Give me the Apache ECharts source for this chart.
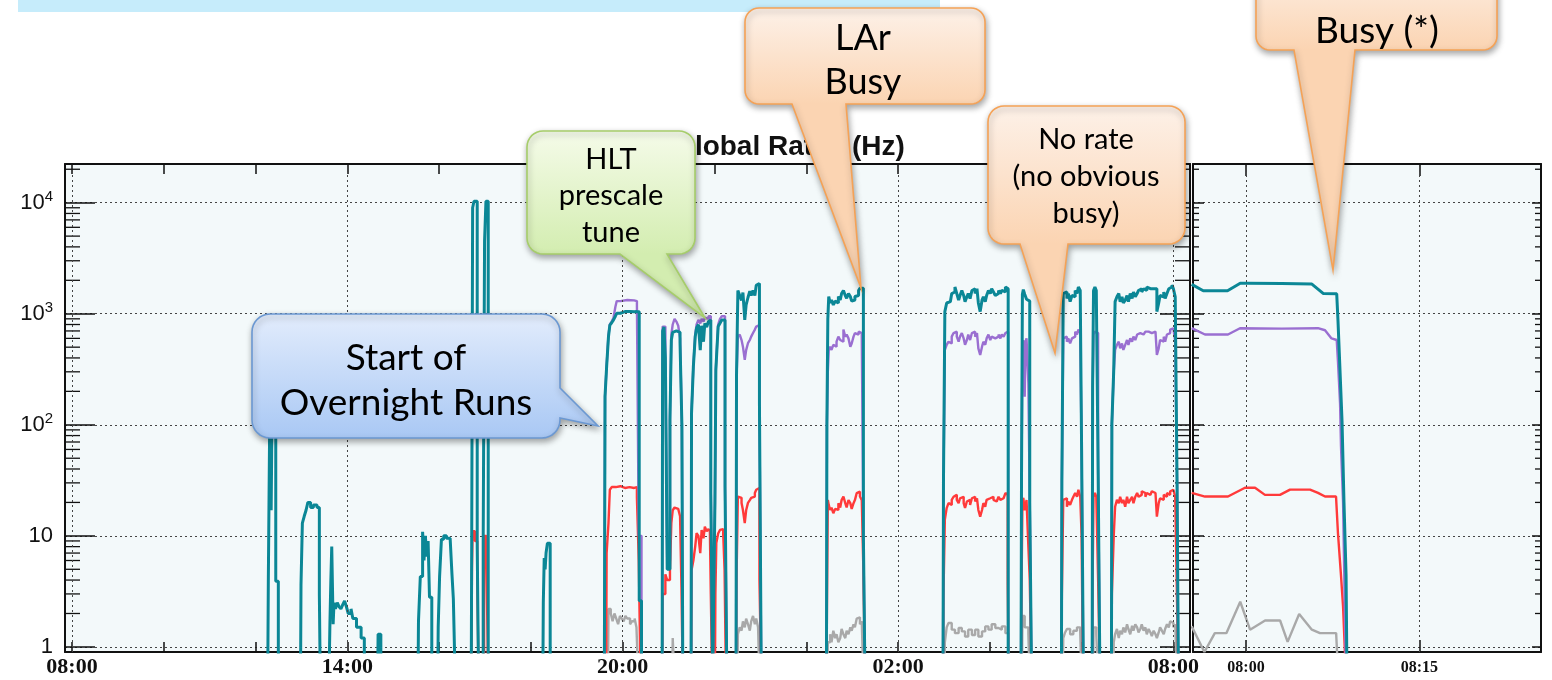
<!DOCTYPE html>
<html>
<head>
<meta charset="utf-8">
<script src="https://cdn.jsdelivr.net/npm/echarts@6/dist/echarts.min.js"></script>
<style>
  html, body { margin: 0; padding: 0; background: #ffffff; }
  #chart { width: 1552px; height: 680px; }
</style>
</head>
<body>
<div id="chart"></div>
<script>
// ---------------------------------------------------------------
// Global trigger rates (Hz), overnight running.
// Left panel: hours after 08:00; right panel: minutes after 08:00.
// Each pair is [time, rate]; 0.5 marks "no rate" (below the axis).
// ---------------------------------------------------------------

// Left panel tick positions (hours after 08:00) and labels
const leftTickHours = [0, 2, 4, 6, 8, 10, 12, 14, 16, 18, 20, 22, 24];
const leftLabelHours = [0, 6, 12, 18, 24];
const leftLabelText = ['08:00', '14:00', '20:00', '02:00', '08:00'];

// Right panel tick positions (minutes after 08:00) and labels
const rightTickMinutes = [0, 15];
const rightLabelText = ['08:00', '08:15'];

// Log axis decade labels: base and exponent text
const yLabelBase = ['1', '10', '10', '10', '10'];
const yLabelExp = ['', '', '2', '3', '4'];
const minorTickValues = [2, 3, 4, 5, 6, 7, 8, 9, 20, 30, 40, 50, 60, 70, 80, 90,
  200, 300, 400, 500, 600, 700, 800, 900, 2000, 3000, 4000, 5000, 6000, 7000, 8000, 9000, 20000];

// ---- Left panel series ----
const tealLeft = [
  [4.265,0.5],[4.278,3.9],[4.311,150],[4.34,17],[4.36,150],[4.44,3.9],[4.496,0.5],
  [4.98,0.5],[4.99,3.6],[5.02,13],[5.06,15],[5.10,17],[5.14,20],[5.20,18],[5.26,19],[5.34,18],[5.39,3],[5.41,0.5],
  [5.60,0.5],[5.62,1.6],[5.64,3.9],[5.66,8],[5.69,1.6],[5.71,2.5],[5.74,2.2],[5.78,2.5],[5.82,2.3],[5.86,2.2],[5.90,2.4],[5.94,2.6],[5.98,2.3],[6.02,2.0],[6.08,2.2],[6.12,1.8],[6.20,1.5],[6.30,1.2],[6.37,0.5],
  [6.66,0.5],[6.67,1.3],[6.73,0.5],
  [7.54,0.5],[7.55,1.7],[7.59,4.3],[7.64,10.9],[7.67,6],[7.70,10],[7.73,6.5],[7.76,9],[7.79,2.8],[7.84,0.5],
  [7.97,0.5],[7.98,1.5],[8.01,4.3],[8.05,9.3],[8.10,10],[8.16,9.5],[8.24,9.7],[8.28,4.5],[8.31,2.7],[8.35,0.5],
  [8.70,0.5],[8.71,8.6],[8.73,9000],[8.76,10300],[8.83,8],[8.86,0.5],[8.96,9],[8.99,4500],[9.02,10300],[9.07,0.5],
  [10.26,0.5],[10.27,2.5],[10.29,6.3],[10.31,5],[10.33,7],[10.36,8.6],[10.42,0.5],
  [11.60,0.5],[11.615,180],[11.65,334],[11.69,620],[11.72,790],[11.76,830],[11.80,880],[11.84,950],[11.87,1010],[11.95,1045],[12.05,1050],[12.15,1040],[12.25,1045],[12.31,1040],[12.36,2.6],[12.41,0.5],
  [12.86,0.5],[12.87,700],[12.90,760],[12.93,400],[12.97,5],[13.03,110],[13.06,580],[13.09,680],[13.13,700],[13.17,720],[13.21,680],[13.25,540],[13.29,100],[13.31,0.5],
  [13.49,0.5],[13.50,127],[13.54,334],[13.58,620],[13.61,745],[13.65,800],[13.69,470],[13.72,780],[13.76,560],[13.79,820],[13.83,760],[13.87,850],[13.90,880],[13.92,25],[13.96,0.5],
  [14.00,0.5],[14.01,20],[14.03,311],[14.06,540],[14.08,766],[14.12,820],[14.16,880],[14.19,880],[14.23,28],[14.27,0.5],
  [14.47,0.5],[14.48,272],[14.51,1620],[14.55,1460],[14.59,1320],[14.62,1550],[14.66,880],[14.69,1200],[14.73,1400],[14.77,1600],[14.80,1460],[14.84,1620],[14.88,1460],[14.91,1800],[14.95,1875],[14.98,157],[15.02,0.5],
  [16.44,0.5],[16.45,104],[16.47,900],[16.49,1430],[16.52,1250],[16.55,1330],[16.59,1200],[16.63,1300],[16.66,1250],[16.70,1430],[16.74,1330],[16.77,1520],[16.81,1620],[16.85,1460],[16.88,1380],[16.92,1520],[16.96,1430],[16.99,1300],[17.03,1330],[17.06,1430],[17.10,1460],[17.14,1620],[17.17,1700],[17.21,1700],[17.245,10],[17.28,0.5],
  [18.98,0.5],[18.99,30],[19.02,1045],[19.06,1250],[19.10,1285],[19.14,1325],[19.17,1520],[19.21,1570],[19.24,1740],[19.28,1520],[19.32,1325],[19.35,1460],[19.39,1620],[19.43,1460],[19.46,1285],[19.50,1420],[19.53,1520],[19.57,1370],[19.61,1620],[19.64,1680],[19.68,1520],[19.72,1680],[19.75,1250],[19.79,1045],[19.83,1325],[19.86,1420],[19.90,1285],[19.93,1460],[19.97,1620],[20.01,1520],[20.04,1680],[20.08,1570],[20.12,1460],[20.15,1520],[20.19,1620],[20.23,1520],[20.26,1620],[20.30,1570],[20.34,1740],[20.37,1680],[20.40,0.5],
  [20.68,0.5],[20.69,30],[20.71,1500],[20.73,1650],[20.76,1500],[20.80,1350],[20.84,1300],[20.87,20],[20.91,0.5],
  [21.56,0.5],[21.57,32],[21.60,1520],[21.64,1570],[21.68,1370],[21.71,1520],[21.75,1285],[21.79,1460],[21.82,1420],[21.86,1620],[21.90,1520],[21.93,1740],[21.97,1620],[22.00,60],[22.04,0.5],
  [22.23,0.5],[22.24,220],[22.26,1620],[22.29,1740],[22.32,1620],[22.36,39],[22.40,0.5],
  [22.65,0.5],[22.66,103],[22.70,311],[22.73,1285],[22.77,1420],[22.81,1520],[22.84,1285],[22.88,1420],[22.91,1250],[22.95,1325],[22.99,1460],[23.02,1285],[23.06,1520],[23.10,1370],[23.13,1570],[23.17,1420],[23.21,1520],[23.24,1620],[23.28,1680],[23.31,1570],[23.35,1680],[23.39,1620],[23.42,1740],[23.46,1680],[23.50,1620],[23.53,1680],[23.57,1740],[23.61,1680],[23.64,1045],[23.68,1250],[23.71,1460],[23.75,1420],[23.79,1570],[23.82,1370],[23.86,1520],[23.90,1680],[23.93,1740],[23.97,1816],[24.00,1680],[24.04,1420],[24.08,30],[24.11,0.5]
];

const purpleLeft = [
  [11.60,0.5],[11.615,180],[11.65,340],[11.69,640],[11.72,800],[11.76,850],[11.80,920],[11.84,1150],[11.87,1300],[11.95,1330],[12.10,1320],[12.25,1300],[12.31,1200],[12.35,10],[12.41,0.5],
  [12.86,0.5],[12.87,766],[12.93,420],[12.97,6],[13.03,120],[13.06,650],[13.09,800],[13.13,900],[13.17,850],[13.21,780],[13.25,600],[13.29,100],[13.31,0.5],
  [13.49,0.5],[13.50,130],[13.54,340],[13.58,650],[13.61,800],[13.65,880],[13.69,820],[13.72,900],[13.76,850],[13.79,920],[13.83,900],[13.87,950],[13.90,950],[13.92,25],[13.96,0.5],
  [14.00,0.5],[14.01,20],[14.03,320],[14.06,560],[14.08,800],[14.12,900],[14.16,950],[14.19,950],[14.23,28],[14.27,0.5],
  [14.47,0.5],[14.48,260],[14.51,622],[14.55,650],[14.59,580],[14.62,505],[14.66,385],[14.69,470],[14.73,543],[14.77,580],[14.80,622],[14.84,670],[14.88,720],[14.91,766],[14.95,790],[14.98,135],[15.02,0.5],
  [16.44,0.5],[16.45,100],[16.47,300],[16.49,470],[16.52,505],[16.55,472],[16.59,525],[16.63,505],[16.66,560],[16.70,622],[16.74,580],[16.77,560],[16.81,720],[16.85,622],[16.88,650],[16.92,600],[16.96,505],[16.99,540],[17.03,622],[17.06,670],[17.10,650],[17.14,690],[17.17,670],[17.21,622],[17.245,10],[17.28,0.5],
  [18.98,0.5],[18.99,30],[19.02,472],[19.06,525],[19.10,560],[19.14,540],[19.17,622],[19.21,670],[19.24,690],[19.28,622],[19.32,560],[19.35,622],[19.39,670],[19.43,600],[19.46,525],[19.50,580],[19.53,650],[19.57,580],[19.61,670],[19.64,690],[19.68,622],[19.72,670],[19.75,488],[19.79,426],[19.83,505],[19.86,560],[19.90,525],[19.93,600],[19.97,650],[20.01,580],[20.04,622],[20.08,600],[20.12,580],[20.15,622],[20.19,650],[20.23,600],[20.26,650],[20.30,622],[20.34,670],[20.37,690],[20.40,0.5],
  [20.68,0.5],[20.69,30],[20.71,420],[20.73,580],[20.76,179],[20.78,560],[20.80,600],[20.84,237],[20.87,20],[20.91,0.5],
  [21.56,0.5],[21.57,32],[21.60,600],[21.64,622],[21.68,560],[21.71,600],[21.75,540],[21.79,600],[21.82,622],[21.86,690],[21.90,650],[21.93,720],[21.97,670],[22.00,60],[22.04,0.5],
  [22.23,0.5],[22.24,200],[22.26,650],[22.29,690],[22.32,670],[22.36,39],[22.40,0.5],
  [22.65,0.5],[22.66,103],[22.70,300],[22.73,472],[22.77,525],[22.81,560],[22.84,488],[22.88,540],[22.91,472],[22.95,525],[22.99,580],[23.02,525],[23.06,600],[23.10,560],[23.13,622],[23.17,580],[23.21,650],[23.24,670],[23.28,690],[23.31,650],[23.35,670],[23.39,690],[23.42,690],[23.46,670],[23.50,670],[23.53,690],[23.57,690],[23.61,670],[23.64,426],[23.68,488],[23.71,580],[23.75,560],[23.79,622],[23.82,560],[23.86,650],[23.90,670],[23.93,720],[23.97,740],[24.00,720],[24.04,560],[24.08,30],[24.11,0.5]
];

const redLeft = [
  [8.70,0.5],[8.715,5],[8.73,11],[8.78,9],[8.83,4],[8.86,0.5],[8.98,10],[9.03,6],[9.07,0.5],
  [11.64,0.5],[11.65,7],[11.69,13],[11.72,26],[11.76,27.5],[11.85,28],[11.95,27],[12.05,27.5],[12.15,27],[12.25,27.5],[12.31,22],[12.35,6],[12.39,0.5],
  [12.86,0.5],[12.87,3],[12.93,4.5],[12.97,4],[13.03,5],[13.06,13],[13.09,17],[13.13,18],[13.17,17.5],[13.21,18],[13.25,15],[13.28,3.5],[13.31,0.5],
  [13.49,0.5],[13.50,4.9],[13.54,6],[13.58,8],[13.61,10.6],[13.65,10],[13.69,7],[13.72,11.3],[13.76,9.5],[13.79,12.1],[13.83,11],[13.87,11.5],[13.90,11],[13.92,3],[13.95,0.5],
  [14.01,0.5],[14.02,3],[14.04,8.6],[14.08,10.5],[14.12,11.3],[14.16,11.5],[14.19,10.5],[14.22,4.9],[14.25,0.5],
  [14.47,0.5],[14.48,4],[14.51,22.6],[14.55,22],[14.59,19.8],[14.62,17.1],[14.66,13],[14.69,17],[14.73,19.8],[14.77,21],[14.80,22],[14.84,22.6],[14.88,24.3],[14.91,26],[14.95,27],[14.98,4],[15.02,0.5],
  [16.44,0.5],[16.45,2],[16.47,21],[16.49,19],[16.52,17.1],[16.55,18],[16.59,16],[16.63,17.5],[16.66,17.1],[16.70,19.7],[16.74,18],[16.77,21],[16.81,22.6],[16.85,19.7],[16.88,18],[16.92,21],[16.96,19.7],[16.99,17.5],[17.03,19.7],[17.06,21],[17.10,24.3],[17.14,25],[17.17,22.6],[17.21,21],[17.245,4.9],[17.28,0.5],
  [18.98,0.5],[18.99,3],[19.02,14],[19.06,17.8],[19.10,19.7],[19.14,19.0],[19.17,21.1],[19.21,22.5],[19.24,23.4],[19.28,21.1],[19.32,19.7],[19.35,21.8],[19.39,22.5],[19.43,19.7],[19.46,17.8],[19.50,20.4],[19.53,21.1],[19.57,19.0],[19.61,21.8],[19.64,22.5],[19.68,20.4],[19.72,21.8],[19.75,17.1],[19.79,14.9],[19.83,17.1],[19.86,19.7],[19.90,18.3],[19.93,21.1],[19.97,21.8],[20.01,21.1],[20.04,22.5],[20.08,21.1],[20.12,20.4],[20.15,21.1],[20.19,22.5],[20.23,21.1],[20.26,21.8],[20.30,21.1],[20.34,24.3],[20.37,23.4],[20.39,3.8],[20.41,0.5],
  [20.68,0.5],[20.69,3],[20.71,20],[20.73,22],[20.76,17],[20.80,21],[20.84,8],[20.87,4],[20.91,0.5],
  [21.56,0.5],[21.57,3],[21.60,21.1],[21.64,21.8],[21.68,18.3],[21.71,20.4],[21.75,19.0],[21.79,21.1],[21.82,22.5],[21.86,24.3],[21.90,22.5],[21.93,26],[21.97,22.5],[22.00,10],[22.03,0.5],
  [22.23,0.5],[22.24,4],[22.26,22.5],[22.29,24.3],[22.32,22.5],[22.36,4],[22.40,0.5],
  [22.65,0.5],[22.66,3],[22.70,10],[22.73,18.3],[22.77,21.1],[22.81,19.7],[22.84,22.5],[22.88,19.7],[22.91,21.1],[22.95,18.3],[22.99,22.5],[23.02,19.7],[23.06,21.1],[23.10,22.5],[23.13,19.7],[23.17,22.5],[23.21,24.3],[23.24,22.5],[23.28,23.4],[23.31,25.2],[23.35,24.3],[23.39,22.5],[23.42,24.3],[23.46,23.4],[23.50,24.3],[23.53,25.2],[23.57,24.3],[23.61,23.4],[23.64,14.9],[23.68,19.7],[23.71,21.8],[23.75,21.1],[23.79,23.4],[23.82,22.5],[23.86,24.3],[23.90,23.4],[23.93,25.2],[23.97,26],[24.00,25.2],[24.04,22.5],[24.08,2.5],[24.11,0.5]
];

const grayLeft = [
  [11.68,0.5],[11.69,2.2],[11.74,2.0],[11.78,1.7],[11.82,2.0],[11.86,1.8],[11.90,1.6],[11.94,1.9],[11.98,1.8],[12.02,1.7],[12.06,1.9],[12.10,1.8],[12.16,1.6],[12.20,1.7],[12.26,1.8],[12.30,1.5],[12.34,0.5],
  [13.08,0.5],[13.09,1.2],[13.13,0.5],
  [14.50,0.5],[14.51,1.3],[14.55,1.5],[14.59,1.4],[14.62,1.7],[14.66,1.5],[14.69,1.8],[14.73,1.6],[14.77,1.4],[14.80,1.7],[14.84,1.9],[14.88,1.6],[14.91,1.8],[14.95,1.5],[14.98,0.5],
  [16.46,0.5],[16.47,1.1],[16.52,1.3],[16.55,1.1],[16.59,1.4],[16.63,1.2],[16.66,1.3],[16.70,1.1],[16.74,1.2],[16.77,1.45],[16.81,1.3],[16.85,1.2],[16.88,1.4],[16.92,1.3],[16.96,1.5],[16.99,1.4],[17.03,1.6],[17.06,1.5],[17.10,1.8],[17.14,1.85],[17.17,1.6],[17.21,1.7],[17.245,0.5],
  [19.01,0.5],[19.02,1.1],[19.06,1.5],[19.10,1.64],[19.17,1.43],[19.24,1.33],[19.32,1.48],[19.39,1.38],[19.46,1.24],[19.53,1.43],[19.61,1.28],[19.68,1.43],[19.75,1.24],[19.83,1.38],[19.90,1.53],[19.97,1.43],[20.04,1.6],[20.12,1.48],[20.19,1.43],[20.26,1.53],[20.34,1.33],[20.40,0.5],
  [20.70,0.5],[20.71,1.9],[20.76,1.5],[20.84,1.3],[20.87,0.5],
  [21.59,0.5],[21.60,1.2],[21.64,1.35],[21.68,1.45],[21.75,1.3],[21.82,1.4],[21.90,1.5],[21.97,1.35],[22.00,0.5],
  [22.25,0.5],[22.26,1.5],[22.32,1.3],[22.36,0.5],
  [22.69,0.5],[22.70,1.1],[22.73,1.3],[22.77,1.45],[22.81,1.2],[22.84,1.4],[22.88,1.3],[22.91,1.5],[22.95,1.35],[22.99,1.6],[23.02,1.45],[23.06,1.3],[23.10,1.55],[23.13,1.4],[23.17,1.6],[23.21,1.5],[23.24,1.35],[23.28,1.45],[23.31,1.6],[23.35,1.4],[23.39,1.5],[23.42,1.3],[23.46,1.45],[23.50,1.35],[23.53,1.25],[23.57,1.4],[23.61,1.3],[23.64,1.2],[23.68,1.35],[23.71,1.5],[23.75,1.4],[23.79,1.3],[23.82,1.45],[23.86,1.6],[23.90,1.5],[23.93,1.7],[23.97,1.65],[24.00,1.5],[24.04,1.6],[24.08,0.5]
];

// ---- Right panel series (minutes after 08:00) ----
const tealRight = [[-4.7,1840],[-3.7,1610],[-1.6,1610],[-0.5,1880],[0.1,1880],[3.1,1870],[5.7,1850],[6.7,1520],[7.85,1510],[7.96,867],[8.14,298],[8.31,108],[8.48,20],[8.66,4.4],[8.74,0.5]];
const purpleRight = [[-4.7,741],[-3.55,650],[-1.56,650],[-0.52,741],[3.1,735],[6.23,741],[6.84,710],[7.4,600],[7.85,580],[7.96,369],[8.14,155],[8.22,64],[8.40,20],[8.66,0.5]];
const redRight = [[-4.7,24.4],[-3.55,22.6],[-1.56,22.6],[-0.09,27.1],[0.78,27.1],[1.64,23.4],[2.94,23.4],[3.81,26.1],[5.54,26.1],[6.23,24.4],[6.84,22.6],[7.79,22.6],[7.96,10.5],[8.22,4.4],[8.40,2.3],[8.66,0.5]];
const grayRight = [[-4.7,1.53],[-3.6,0.9],[-2.7,1.33],[-1.7,1.33],[-0.5,2.55],[0.35,1.43],[1.65,1.73],[2.95,1.73],[3.6,1.11],[4.6,1.98],[5.7,1.43],[6.4,1.33],[7.8,1.33],[8.0,0.5]];

// ---------------------------------------------------------------
const COLORS = { teal: '#0b8796', purple: '#9a6fd1', red: '#ff3a3a', gray: '#a9a9a9' };
const FRAME = '#111111';
const Y_MIN = 0.9, Y_MAX = 22300;
const LEFT_MIN = -0.1525, LEFT_MAX = 24.362;
const RIGHT_MIN = -4.588, RIGHT_MAX = 25.53;
const SANS = '"Liberation Sans", Arial, sans-serif';

function labelFor(values, texts) {
  return function (v) {
    for (let i = 0; i < values.length; i++) {
      if (Math.abs(values[i] - v) < 1e-6) return texts[i];
    }
    return '';
  };
}

function xAxisCfg(gridIndex, position, min, max, tickVals, tickLen, labelVals, labelTexts, fontSize, margin) {
  return {
    type: 'value', gridIndex, position, min, max,
    axisLine: { show: true, onZero: false, lineStyle: { color: FRAME, width: 2 } },
    axisTick: { show: true, inside: true, length: tickLen, customValues: tickVals, lineStyle: { color: FRAME, width: 1.5 } },
    axisLabel: labelVals ? {
      show: true, customValues: labelVals, formatter: labelFor(labelVals, labelTexts),
      fontFamily: '"Liberation Serif", "Times New Roman", serif', fontWeight: 'bold',
      fontSize, color: '#111', margin
    } : { show: false },
    splitLine: { show: false }
  };
}

function decadeLabel(v) {
  const e = Math.log10(v);
  const n = Math.round(e);
  if (Math.abs(e - n) > 0.01 || n < 0 || n > 4) return '';
  return yLabelExp[n] ? '{b|' + yLabelBase[n] + '}{s|' + yLabelExp[n] + '}' : '{b|' + yLabelBase[n] + '}';
}

function yAxisCfg(gridIndex, position, tickLen, showLabels, showSplit) {
  return {
    type: 'log', logBase: 10, gridIndex, position, min: Y_MIN, max: Y_MAX,
    axisLine: { show: true, onZero: false, lineStyle: { color: FRAME, width: 2 } },
    axisTick: { show: true, inside: true, length: tickLen, lineStyle: { color: FRAME, width: 1.5 } },
    axisLabel: showLabels ? {
      show: true, margin: 12, formatter: decadeLabel,
      fontSize: 22, fontFamily: SANS, color: '#111',
      rich: {
        b: { fontSize: 22, fontFamily: SANS, color: '#111', lineHeight: 27 },
        s: { fontSize: 15, fontFamily: SANS, color: '#111', lineHeight: 15, verticalAlign: 'top' }
      }
    } : { show: false },
    splitLine: { show: showSplit, lineStyle: { color: '#444', width: 1, type: [2, 3] } }
  };
}

// Minor log ticks (2..9 in each decade) on both sides of a panel
function minorTickSeries(xIdx, yIdx, xRef, len) {
  return {
    type: 'custom', xAxisIndex: xIdx, yAxisIndex: yIdx, silent: true, z: 3,
    data: minorTickValues.map(v => [xRef, v]),
    renderItem: function (params, api) {
      const cs = params.coordSys;
      const y = api.coord([api.value(0), api.value(1)])[1];
      const st = { stroke: FRAME, lineWidth: 1.3 };
      return {
        type: 'group',
        children: [
          { type: 'line', shape: { x1: cs.x, y1: y, x2: cs.x + len, y2: y }, style: st },
          { type: 'line', shape: { x1: cs.x + cs.width, y1: y, x2: cs.x + cs.width - len, y2: y }, style: st }
        ]
      };
    }
  };
}

function rateSeries(name, data, color, width, xIdx, yIdx, step, extra) {
  return Object.assign({
    name, type: 'line', data, xAxisIndex: xIdx, yAxisIndex: yIdx,
    step: step, showSymbol: false, symbol: 'none', clip: true,
    lineStyle: { color, width }, itemStyle: { color }, silent: true
  }, extra || {});
}

function gridMarks(values) {
  return {
    silent: true, symbol: ['none', 'none'], animation: false,
    label: { show: false },
    lineStyle: { color: '#444', width: 1, type: [2, 3] },
    emphasis: { disabled: true },
    data: values.map(v => ({ xAxis: v }))
  };
}

// ---- Callout shapes ----
function calloutPoints(L, T, R, B, r, ptr) {
  const pts = [];
  const arc = (cx, cy, a0, a1) => {
    for (let i = 0; i <= 8; i++) {
      const a = (a0 + (a1 - a0) * i / 8) * Math.PI / 180;
      pts.push([cx + r * Math.cos(a), cy + r * Math.sin(a)]);
    }
  };
  arc(R - r, T + r, -90, 0);
  if (ptr.side === 'right') pts.push([R, ptr.a], ptr.tip, [R, ptr.b]);
  arc(R - r, B - r, 0, 90);
  if (ptr.side === 'bottom') pts.push([ptr.b, B], ptr.tip, [ptr.a, B]);
  arc(L + r, B - r, 90, 180);
  arc(L + r, T + r, 180, 270);
  return pts;
}

function callout(box, ptr, top, bottom, stroke, lines, fontSize) {
  const els = [{
    type: 'polygon', z: 100, silent: true,
    shape: { points: calloutPoints(box.L, box.T, box.R, box.B, box.r, ptr) },
    style: {
      fill: { type: 'linear', x: 0, y: box.T, x2: 0, y2: box.B, global: true,
              colorStops: [{ offset: 0, color: top }, { offset: 1, color: bottom }] },
      stroke, lineWidth: 1.6,
      shadowBlur: 6, shadowOffsetX: 1, shadowOffsetY: 3, shadowColor: 'rgba(0,0,0,0.35)'
    }
  }];
  lines.forEach(l => {
    els.push({
      type: 'text', z: 101, silent: true, x: l[1], y: l[2],
      style: { text: l[0], font: fontSize + 'px Lato, "Open Sans", sans-serif', fill: '#000',
               textAlign: 'center', textVerticalAlign: 'middle' }
    });
  });
  return els;
}

const orangeTop = '#fdf1e8', orangeBottom = '#fbd4b2', orangeStroke = '#f5a256';

const graphics = [].concat(
  [{ type: 'rect', z: 1, silent: true, shape: { x: 18, y: 0, width: 922, height: 12 }, style: { fill: '#c6ecfb' } },
   { type: 'text', z: 50, silent: true, x: 789, y: 147,
     style: { text: 'Global Rates (Hz)', font: 'bold 28px "Liberation Sans", Arial, sans-serif', fill: '#111',
              textAlign: 'center', textVerticalAlign: 'middle' } }],
  callout({ L: 252, T: 314, R: 560, B: 438, r: 18 }, { side: 'right', a: 388, b: 418, tip: [598, 426] },
          '#e2ecfc', '#a9c8f4', '#6b98d2',
          [['Start of', 406, 358], ['Overnight Runs', 406, 403]], 37),
  callout({ L: 527, T: 131, R: 695, B: 254, r: 16 }, { side: 'bottom', a: 620, b: 667, tip: [705, 318] },
          '#f5fbe9', '#d3edb0', '#a6cd6a',
          [['HLT', 611, 160], ['prescale', 611, 196], ['tune', 611, 233]], 29),
  callout({ L: 745, T: 8, R: 985, B: 104, r: 14 }, { side: 'bottom', a: 792, b: 846, tip: [861, 288] },
          orangeTop, orangeBottom, orangeStroke,
          [['LAr', 863, 38], ['Busy', 863, 82]], 36),
  callout({ L: 988, T: 106, R: 1185, B: 244, r: 16 }, { side: 'bottom', a: 1020, b: 1068, tip: [1055, 353] },
          orangeTop, orangeBottom, orangeStroke,
          [['No rate', 1086, 140], ['(no obvious', 1086, 177], ['busy)', 1086, 214]], 29),
  callout({ L: 1256, T: -40, R: 1497, B: 50, r: 14 }, { side: 'bottom', a: 1294, b: 1355, tip: [1333, 270] },
          orangeTop, orangeBottom, orangeStroke,
          [['Busy (*)', 1377, 31]], 37)
);

const chart = echarts.init(document.getElementById('chart'), null, { renderer: 'canvas' });
chart.setOption({
  animation: false,
  backgroundColor: '#ffffff',
  grid: [
    { left: 65, top: 164, width: 1125, height: 488, show: true, backgroundColor: '#f3f9fa', borderWidth: 0 },
    { left: 1193, top: 164, width: 348, height: 488, show: true, backgroundColor: '#f3f9fa', borderWidth: 0 }
  ],
  xAxis: [
    xAxisCfg(0, 'bottom', LEFT_MIN, LEFT_MAX, leftTickHours, 10, leftLabelHours, leftLabelText, 22, 4),
    xAxisCfg(0, 'top', LEFT_MIN, LEFT_MAX, leftTickHours, 10, null),
    xAxisCfg(1, 'bottom', RIGHT_MIN, RIGHT_MAX, rightTickMinutes, 12, rightTickMinutes, rightLabelText, 16, 8),
    xAxisCfg(1, 'top', RIGHT_MIN, RIGHT_MAX, rightTickMinutes, 12, null)
  ],
  yAxis: [
    yAxisCfg(0, 'left', 30, true, true),
    yAxisCfg(0, 'right', 30, false, false),
    yAxisCfg(1, 'left', 11, false, true),
    yAxisCfg(1, 'right', 9, false, false)
  ],
  series: [
    minorTickSeries(0, 0, 12, 15),
    minorTickSeries(2, 2, 10, 6),
    rateSeries('gray', grayLeft, COLORS.gray, 2.4, 0, 0, 'end', { markLine: gridMarks(leftLabelHours) }),
    rateSeries('red', redLeft, COLORS.red, 2.4, 0, 0, 'end'),
    rateSeries('purple', purpleLeft, COLORS.purple, 2.4, 0, 0, 'end'),
    rateSeries('teal', tealLeft, COLORS.teal, 3, 0, 0, 'end'),
    rateSeries('gray', grayRight, COLORS.gray, 2.4, 2, 2, false, { markLine: gridMarks(rightTickMinutes) }),
    rateSeries('red', redRight, COLORS.red, 2.4, 2, 2, false),
    rateSeries('purple', purpleRight, COLORS.purple, 2.4, 2, 2, false),
    rateSeries('teal', tealRight, COLORS.teal, 3, 2, 2, false)
  ],
  graphic: { elements: graphics }
});
</script>
</body>
</html>
